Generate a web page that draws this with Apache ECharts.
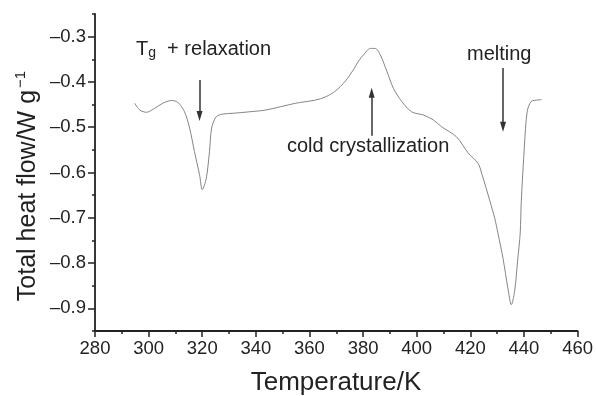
<!DOCTYPE html>
<html>
<head>
<meta charset="utf-8">
<script src="https://cdn.jsdelivr.net/npm/echarts@6/dist/echarts.min.js"></script>
<style>html,body{margin:0;padding:0;background:#fff}#c{width:596px;height:396px}</style>
</head>
<body>
<div id="c"></div>
<script>
// Temperature (K)
const temperature = [294.8,296.7,299.2,302.3,305.3,308.5,310.9,313.4,315.3,317.1,319.0,320.0,321.5,322.7,323.5,325.2,327.6,332.0,337.5,343.7,354.9,362.3,366.0,369.7,373.4,376.5,378.4,380.2,382.7,384.5,386.4,388.9,391.3,394.4,398.1,402.5,404.3,406.2,409.3,414.8,419.2,422.9,424.4,427.2,429.1,430.3,432.2,434.0,435.3,436.5,437.7,438.6,439.0,440.2,441.2,442.7,445.2,446.6];
// Total heat flow (W/g)
const heatFlow = [-0.447,-0.462,-0.467,-0.458,-0.447,-0.441,-0.445,-0.466,-0.502,-0.554,-0.605,-0.638,-0.613,-0.554,-0.502,-0.477,-0.471,-0.469,-0.466,-0.462,-0.447,-0.440,-0.433,-0.420,-0.398,-0.372,-0.353,-0.340,-0.326,-0.326,-0.340,-0.377,-0.414,-0.443,-0.466,-0.473,-0.478,-0.484,-0.499,-0.521,-0.557,-0.580,-0.605,-0.661,-0.701,-0.734,-0.790,-0.855,-0.892,-0.863,-0.791,-0.734,-0.664,-0.539,-0.466,-0.443,-0.440,-0.439];
const yMajorTicks = [-0.9,-0.8,-0.7,-0.6,-0.5,-0.4,-0.3];
const yMinorTicks = [-0.95,-0.85,-0.75,-0.65,-0.55,-0.45,-0.35,-0.25];
// annotation arrows [x1,y1,x2,y2] in data units
const arrowTg = [319.0,-0.396,319.0,-0.475];
const arrowCold = [383.2,-0.519,383.2,-0.424];
const arrowMelt = [432.2,-0.369,432.2,-0.499];

const axisColor = '#222';
const font = 'Liberation Sans, Arial, sans-serif';
const chart = echarts.init(document.getElementById('c'), null, {renderer:'canvas'});
const arrowLine = a => [{coord:[a[0],a[1]]},{coord:[a[2],a[3]]}];
chart.setOption({
  animation:false,
  backgroundColor:'#fff',
  grid:{left:95,right:16,top:14,bottom:65},
  xAxis:{type:'value',min:280,max:460,interval:20,
    axisLine:{lineStyle:{color:axisColor,width:1.8}},
    axisTick:{length:6,lineStyle:{color:axisColor,width:1.5}},
    minorTick:{show:true,splitNumber:2,length:3,lineStyle:{color:axisColor,width:1.5}},
    splitLine:{show:false},
    axisLabel:{color:axisColor,fontSize:18.5,fontFamily:font,margin:8}
  },
  yAxis:[{type:'value',min:-0.95,max:-0.25,
    axisLine:{show:true,lineStyle:{color:axisColor,width:1.8}},
    axisTick:{show:true,length:7,customValues:yMajorTicks,lineStyle:{color:axisColor,width:1.5}},
    axisLabel:{customValues:yMajorTicks,color:axisColor,fontSize:18.5,fontFamily:font,margin:9,
      formatter:v=>v.toFixed(1).replace('-','\u2013')},
    splitLine:{show:false}
  },{type:'value',min:-0.95,max:-0.25,position:'left',
    axisLine:{show:false},
    axisTick:{show:true,length:3,customValues:yMinorTicks,lineStyle:{color:axisColor,width:1.5}},
    axisLabel:{show:false},splitLine:{show:false}
  }],
  series:[{type:'line',data:temperature.map((t,i)=>[t,heatFlow[i]]),showSymbol:false,smooth:0.3,
    lineStyle:{color:'#858585',width:1},
    markLine:{silent:true,symbol:['none','triangle'],symbolSize:[6,10],
      lineStyle:{color:'#333',width:1.5,type:'solid'},label:{show:false},
      data:[arrowLine(arrowTg),arrowLine(arrowCold),arrowLine(arrowMelt)]}
  }],
  graphic:[
    {type:'text',x:28,y:186,rotation:Math.PI/2,style:{text:'{a|Total heat flow/W g}{s|\u22121}',
      rich:{a:{fontSize:25,fontFamily:font,fill:axisColor},s:{fontSize:15,fontFamily:font,fill:axisColor,padding:[0,0,14,2]}},
      align:'center',verticalAlign:'middle'}},
    {type:'text',x:336,y:383,style:{text:'Temperature/K',fontSize:26,fontFamily:font,fill:axisColor,align:'center',verticalAlign:'middle'}},
    {type:'text',x:136,y:49,style:{text:'{t|T}{g|g}{t|  + relaxation}',
      rich:{t:{fontSize:20,fontFamily:font,fill:axisColor},g:{fontSize:14,fontFamily:font,fill:axisColor,padding:[8,0,0,0]}},
      align:'left',verticalAlign:'middle'}},
    {type:'text',x:287,y:146,style:{text:'cold crystallization',fontSize:20,fontFamily:font,fill:axisColor,align:'left',verticalAlign:'middle'}},
    {type:'text',x:467,y:54,style:{text:'melting',fontSize:20,fontFamily:font,fill:axisColor,align:'left',verticalAlign:'middle'}}
  ]
});
</script>
</body>
</html>
